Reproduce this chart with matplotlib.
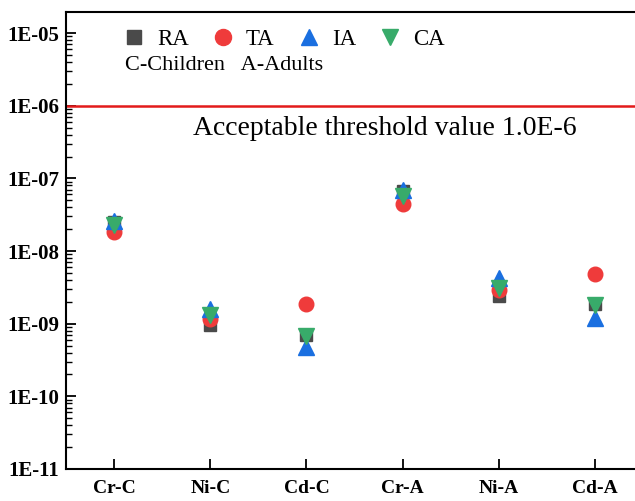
import matplotlib
matplotlib.use("Agg")
import matplotlib.pyplot as plt
import numpy as np

categories = ["Cr-C", "Ni-C", "Cd-C", "Cr-A", "Ni-A", "Cd-A"]
RA = [2.5e-8, 0.97e-9, 7.0e-10, 6.8e-8, 2.4e-9, 1.85e-9]
TA = [1.8e-8, 1.15e-9, 1.86e-9, 4.5e-8, 2.9e-9, 4.8e-9]
IA = [2.6e-8, 1.6e-9, 4.7e-10, 6.9e-8, 4.2e-9, 1.2e-9]
CA = [2.25e-8, 1.3e-9, 6.8e-10, 5.7e-8, 3.1e-9, 1.8e-9]
threshold = 1.0e-6
ytick_vals = [1e-11, 1e-10, 1e-9, 1e-8, 1e-7, 1e-6, 1e-5]
ytick_labels = ["1E-11", "1E-10", "1E-09", "1E-08", "1E-07", "1E-06", "1E-05"]

serif = ["Liberation Serif", "DejaVu Serif"]
plt.rcParams["font.family"] = serif

fig = plt.figure(figsize=(6.35, 5.01), dpi=100)
ax = fig.add_axes([0.104, 0.064, 0.9086, 0.912])

x = np.arange(len(categories))
ax.plot(x, RA, "s", color="#4a4a4a", markersize=9, label="RA", zorder=3)
ax.plot(x, TA, "o", color="#ef3b3b", markersize=10.5, label="TA", zorder=3)
ax.plot(x, IA, "^", color="#1a6fe0", markersize=11, label="IA", zorder=3)
ax.plot(x, CA, "v", color="#38ab6a", markersize=11, label="CA", zorder=3)

ax.axhline(threshold, color="#e31a1a", lw=1.8, zorder=2)
ax.text(2.82, 4.9e-7, "Acceptable threshold value 1.0E-6", fontsize=20,
        ha="center", va="center")

ax.set_yscale("log")
ax.set_ylim(1e-11, 1.95e-5)
ax.set_xlim(-0.5, 5.5)
ax.set_yticks(ytick_vals)
ax.set_yticklabels(ytick_labels, fontsize=15, fontweight="bold")
ax.set_xticks(x)
ax.set_xticklabels(categories, fontsize=14, fontweight="bold")
ax.tick_params(axis="both", which="major", direction="in", length=7, width=1.3, pad=8)
ax.tick_params(axis="y", which="minor", direction="in", length=4, width=1.0)
ax.tick_params(axis="y", which="major", pad=5)
ax.tick_params(top=False, right=False)
for s in ax.spines.values():
    s.set_linewidth(1.5)

leg = ax.legend(loc="upper left", bbox_to_anchor=(0.07, 0.997), ncol=4, frameon=False,
                fontsize=16.5, handletextpad=0.5, columnspacing=1.0, handlelength=1.0,
                borderaxespad=0.3, markerscale=1.1)
ax.text(0.103, 0.884, "C-Children   A-Adults", transform=ax.transAxes,
        fontsize=16, ha="left", va="center")

fig.savefig("out.png", dpi=100)
